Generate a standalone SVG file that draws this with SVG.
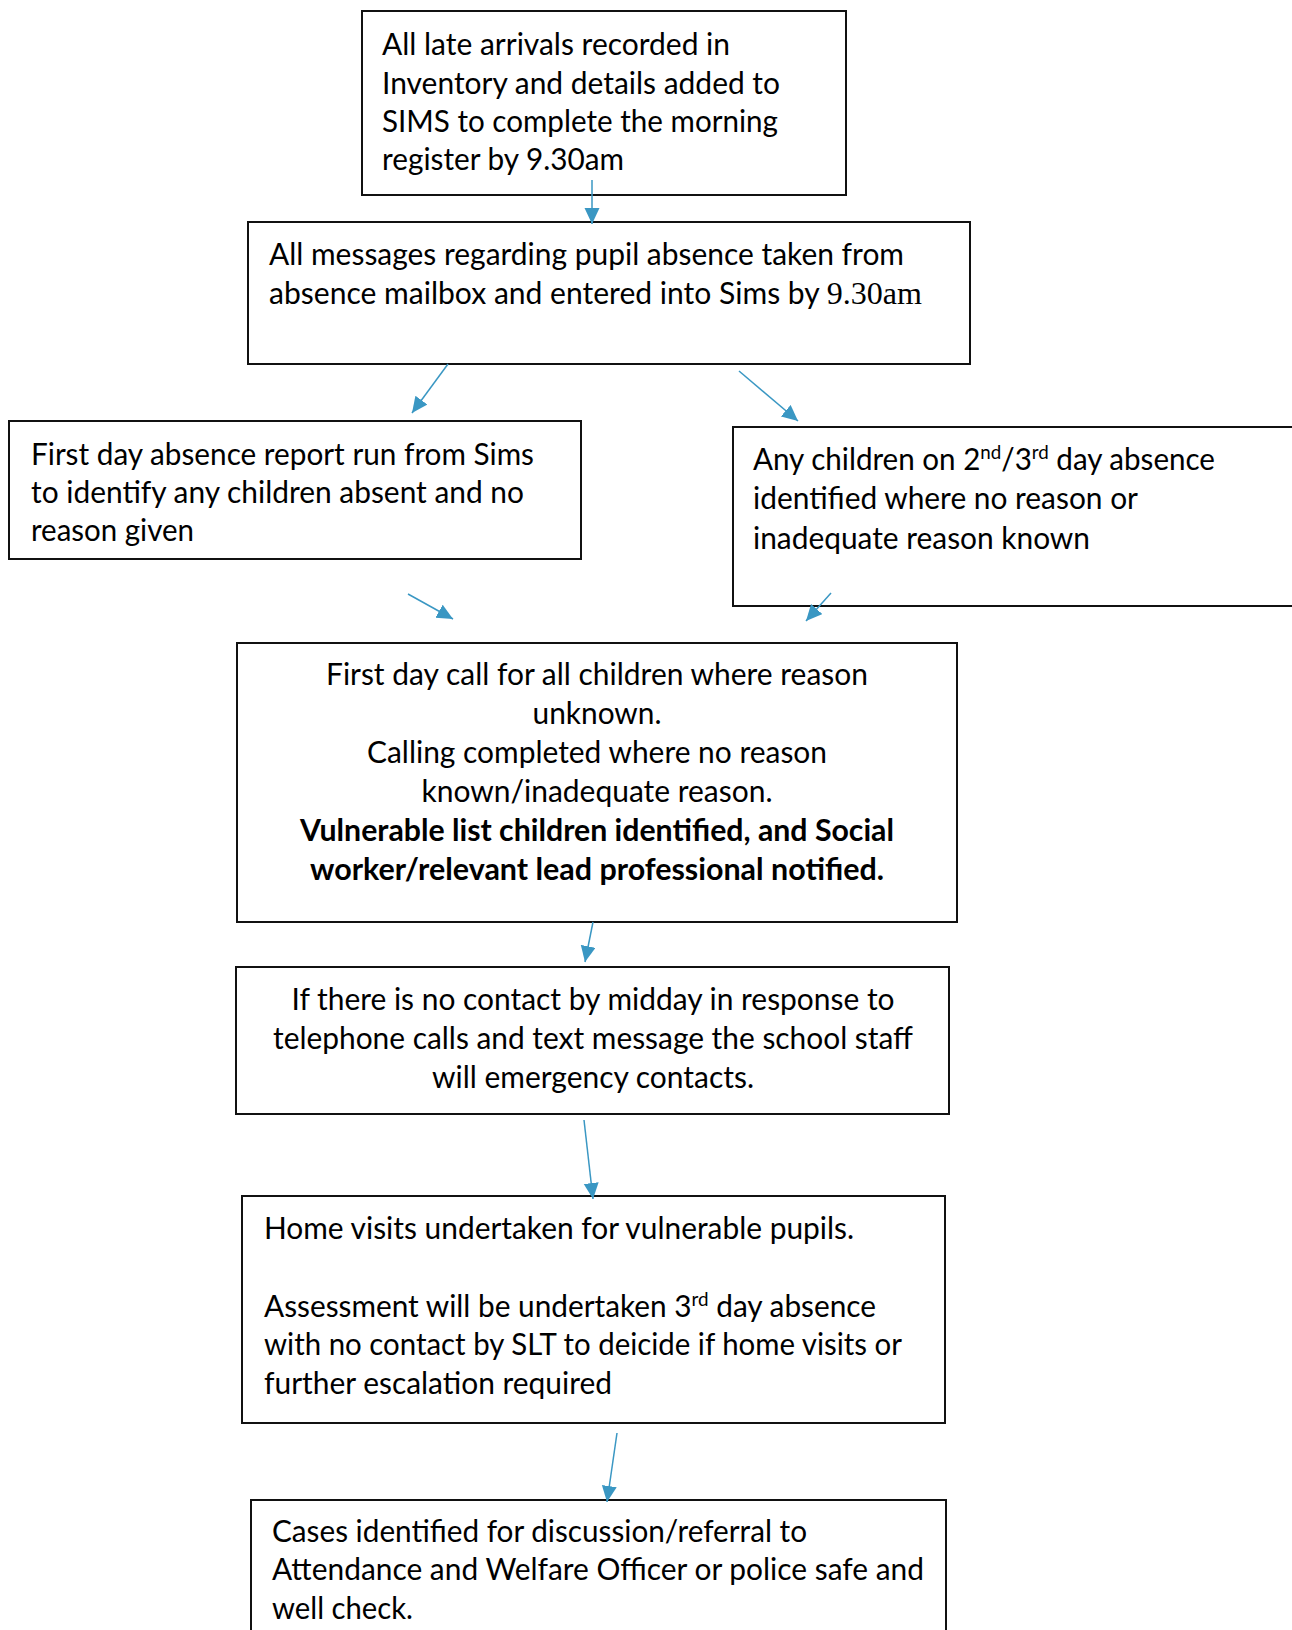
<svg xmlns="http://www.w3.org/2000/svg" width="1292" height="1630" viewBox="0 0 1292 1630">
<style>
.box{fill:#fff;stroke:#111;stroke-width:2}
.t{font-family:Lato,"Open Sans","Liberation Sans",sans-serif;font-size:30px;fill:#000;transform:translateY(1.5px)}
.c{text-anchor:middle}
.b{font-weight:bold}
.sup{font-size:19px}
.serif{font-family:"Liberation Serif","Times New Roman",serif;font-size:32px}
.arr{stroke:#3A97C3;stroke-width:1.5;fill:none;marker-end:url(#ah)}
</style>
<defs>
<marker id="ah" markerUnits="userSpaceOnUse" markerWidth="17" markerHeight="16" refX="16" refY="7.5" orient="auto">
<path d="M0,0 L16,7.5 L0,15 z" fill="#3A97C3"/>
</marker>
</defs>
<rect width="1292" height="1630" fill="#fff"/>
<g id="n1">
<rect class="box" x="362" y="11" width="484" height="184"/>
<text class="t" x="382" y="53" textLength="348" lengthAdjust="spacingAndGlyphs">All late arrivals recorded in</text>
<text class="t" x="382" y="92" textLength="398" lengthAdjust="spacingAndGlyphs">Inventory and details added to</text>
<text class="t" x="382" y="130" textLength="396" lengthAdjust="spacingAndGlyphs">SIMS to complete the morning</text>
<text class="t" x="382" y="168" textLength="242" lengthAdjust="spacingAndGlyphs">register by 9.30am</text>
</g>
<g id="n2">
<rect class="box" x="248" y="222" width="722" height="142"/>
<text class="t" x="269" y="263" textLength="635" lengthAdjust="spacingAndGlyphs">All messages regarding pupil absence taken from</text>
<text class="t" x="269" y="302" textLength="653" lengthAdjust="spacingAndGlyphs">absence mailbox and entered into Sims by <tspan class="serif">9.30am</tspan></text>
</g>
<g id="n3">
<rect class="box" x="9" y="421" width="572" height="138"/>
<text class="t" x="31" y="463" textLength="503" lengthAdjust="spacingAndGlyphs">First day absence report run from Sims</text>
<text class="t" x="31" y="501" textLength="493" lengthAdjust="spacingAndGlyphs">to identify any children absent and no</text>
<text class="t" x="31" y="539" textLength="163" lengthAdjust="spacingAndGlyphs">reason given</text>
</g>
<g id="n4">
<rect class="box" x="733" y="427" width="600" height="179"/>
<text class="t" x="753" y="468" textLength="462" lengthAdjust="spacingAndGlyphs">Any children on 2<tspan class="sup" dy="-11">nd</tspan><tspan dy="11">/3</tspan><tspan class="sup" dy="-11">rd</tspan><tspan dy="11"> day absence</tspan></text>
<text class="t" x="753" y="507" textLength="385" lengthAdjust="spacingAndGlyphs">identified where no reason or</text>
<text class="t" x="753" y="547" textLength="337" lengthAdjust="spacingAndGlyphs">inadequate reason known</text>
</g>
<g id="n5">
<rect class="box" x="237" y="643" width="720" height="279"/>
<text class="t c" x="597" y="683" textLength="542" lengthAdjust="spacingAndGlyphs">First day call for all children where reason</text>
<text class="t c" x="597" y="722" textLength="129" lengthAdjust="spacingAndGlyphs">unknown.</text>
<text class="t c" x="597" y="761" textLength="460" lengthAdjust="spacingAndGlyphs">Calling completed where no reason</text>
<text class="t c" x="597" y="800" textLength="351" lengthAdjust="spacingAndGlyphs">known/inadequate reason.</text>
<text class="t c b" x="597" y="839" textLength="594" lengthAdjust="spacingAndGlyphs">Vulnerable list children identified, and Social</text>
<text class="t c b" x="597" y="878" textLength="574" lengthAdjust="spacingAndGlyphs">worker/relevant lead professional notified.</text>
</g>
<g id="n6">
<rect class="box" x="236" y="967" width="713" height="147"/>
<text class="t c" x="593" y="1008" textLength="603" lengthAdjust="spacingAndGlyphs">If there is no contact by midday in response to</text>
<text class="t c" x="593" y="1047" textLength="640" lengthAdjust="spacingAndGlyphs">telephone calls and text message the school staff</text>
<text class="t c" x="593" y="1086" textLength="322" lengthAdjust="spacingAndGlyphs">will emergency contacts.</text>
</g>
<g id="n7">
<rect class="box" x="242" y="1196" width="703" height="227"/>
<text class="t" x="264" y="1237" textLength="590" lengthAdjust="spacingAndGlyphs">Home visits undertaken for vulnerable pupils.</text>
<text class="t" x="264" y="1315" textLength="612" lengthAdjust="spacingAndGlyphs">Assessment will be undertaken 3<tspan class="sup" dy="-11">rd</tspan><tspan dy="11"> day absence</tspan></text>
<text class="t" x="264" y="1353" textLength="638" lengthAdjust="spacingAndGlyphs">with no contact by SLT to deicide if home visits or</text>
<text class="t" x="264" y="1392" textLength="348" lengthAdjust="spacingAndGlyphs">further escalation required</text>
</g>
<g id="n8">
<rect class="box" x="251" y="1500" width="695" height="200"/>
<text class="t" x="272" y="1540" textLength="535" lengthAdjust="spacingAndGlyphs">Cases identified for discussion/referral to</text>
<text class="t" x="272" y="1578" textLength="652" lengthAdjust="spacingAndGlyphs">Attendance and Welfare Officer or police safe and</text>
<text class="t" x="272" y="1617" textLength="141" lengthAdjust="spacingAndGlyphs">well check.</text>
</g>
<g id="connectors">
<line class="arr" x1="592" y1="180" x2="592" y2="224"/>
<line class="arr" x1="448" y1="364" x2="412" y2="413"/>
<line class="arr" x1="739" y1="371" x2="798" y2="421"/>
<line class="arr" x1="408" y1="594" x2="453" y2="619"/>
<line class="arr" x1="831" y1="593" x2="806" y2="621"/>
<line class="arr" x1="593" y1="922" x2="585" y2="962"/>
<line class="arr" x1="584" y1="1120" x2="593" y2="1199"/>
<line class="arr" x1="617" y1="1433" x2="607" y2="1502"/>
</g>
</svg>
